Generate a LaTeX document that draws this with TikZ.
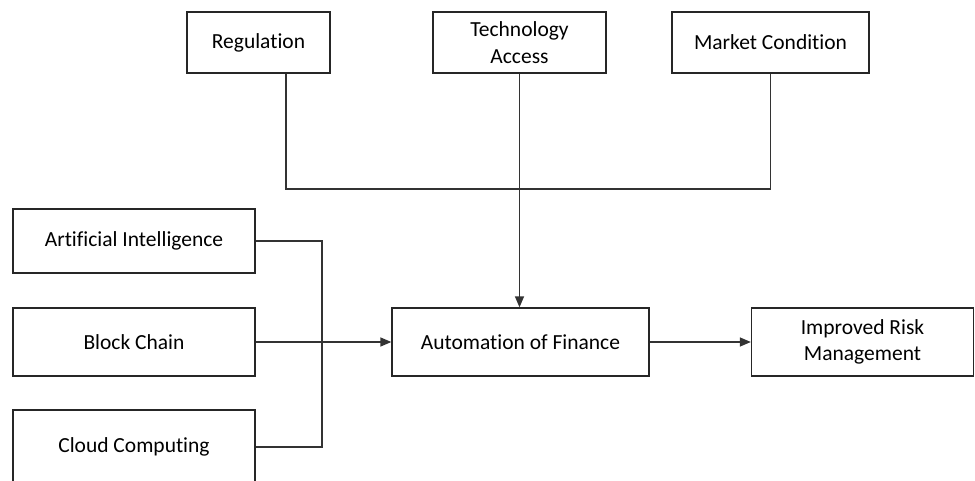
\documentclass[tikz,border=0pt]{standalone}
\usepackage{fontspec}
\setmainfont{Carlito}[Ligatures=CommonOff]
\usetikzlibrary{arrows.meta}
\begin{document}
\begin{tikzpicture}[x=1pt,y=-1pt,
  box/.style={draw=black!85, line width=1.3pt, align=center, inner sep=0pt,
    font=\fontsize{21.5}{26.5}\selectfont, text=black},
  conn/.style={draw=black!80, line width=1.3pt},
  arr/.style={conn, -{Triangle[length=11pt,width=9pt]}}]
\useasboundingbox (0,0) rectangle (975,481);
\clip (0,0) rectangle (975,481);
% top boxes
\node[box, minimum width=143pt, minimum height=61pt] (reg) at (258.5,42.5) {Regulation};
\node[box, minimum width=173pt, minimum height=61pt] (tech) at (519.5,42.5) {Technology\\Access};
\node[box, minimum width=197pt, minimum height=61pt] (mkt) at (770.5,42.5) {Market Condition};
% left boxes
\node[box, minimum width=242pt, minimum height=64pt] (ai) at (134,241) {Artificial Intelligence};
\node[box, minimum width=242pt, minimum height=68pt] (bc) at (134,342) {Block Chain};
\node[box, minimum width=242pt, minimum height=74pt] (cc) at (134,447) {Cloud Computing};
% middle and right
\node[box, minimum width=257pt, minimum height=68pt] (auto) at (520.5,342) {Automation of Finance};
\node[box, minimum width=222pt, minimum height=68pt] (irm) at (862.5,342) {Improved Risk\\Management};
% junctions
\coordinate (jt) at (519.5,189);
\coordinate (jl) at (322,342);
% connectors
\draw[conn] ([xshift=27.5pt]reg.south) |- (jt);
\draw[conn] (mkt.south) |- (jt);
\draw[arr] (tech.south) -- (tech.south |- auto.north);
\draw[conn] (ai.east) -| (jl);
\draw[conn] (cc.east) -| (jl);
\draw[arr] (bc.east) -- (auto.west);
\draw[arr] (auto.east) -- (irm.west);
\end{tikzpicture}
\end{document}
